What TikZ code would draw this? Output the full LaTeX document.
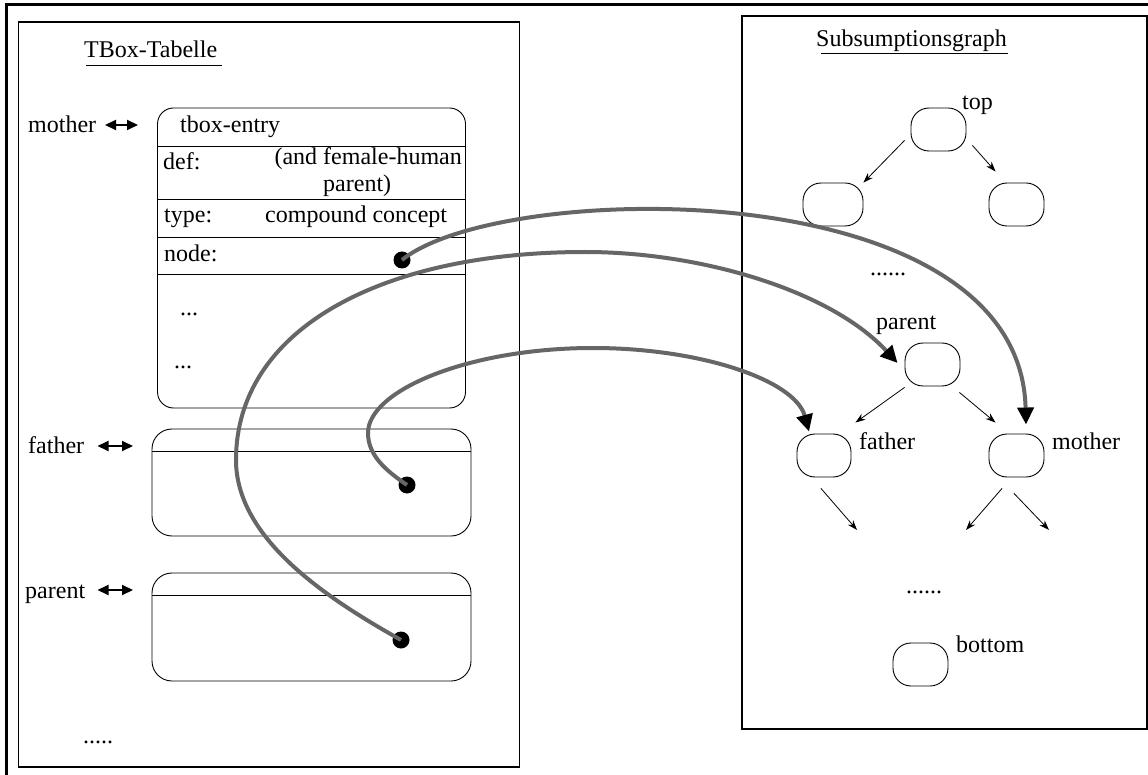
\documentclass[tikz,border=0pt]{standalone}
\usepackage{fontspec}
\setmainfont{Liberation Serif}
\usetikzlibrary{arrows.meta}
\definecolor{linkgray}{RGB}{102,102,102}
\begin{document}
\begin{tikzpicture}[x=1pt,y=-1pt,
  font=\fontsize{24}{28}\selectfont,
  panel/.style={draw, line width=1.2pt, inner sep=0pt},
  entrybox/.style={draw, line width=0.9pt, inner sep=0pt, rounded corners=16pt},
  gnode/.style={draw, line width=0.9pt, inner sep=0pt, rounded corners=18pt,
    minimum height=43pt, minimum width=55pt},
  txt/.style={inner sep=0pt, anchor=base west},
  rtxt/.style={inner sep=0pt, anchor=base east},
  handle/.style={circle, fill=black, inner sep=0pt, minimum size=17pt},
  link/.style={draw=linkgray, line width=4pt,
    -{Triangle[length=17pt,width=16pt,color=black]}},
  edge/.style={line width=0.8pt, -{Stealth[length=10pt,width=7pt]}},
  biarrow/.style={line width=2pt,
    {Triangle[length=11pt,width=10pt]}-{Triangle[length=11pt,width=10pt]}},
  sep/.style={line width=0.9pt}]
\useasboundingbox (0,0) rectangle (1148,775);

% outer frame
\draw[line width=3pt] (6,780) -- (6,5) -- (1150,5);

% the two panels
\node[panel, minimum width=501pt, minimum height=745pt] (tbox) at (269,394.5) {};
\node[panel, minimum width=405pt, minimum height=713pt] (sgraph) at (944.5,372.5) {};

% panel titles
\node[txt] (ttitle) at (84,58) {TBox-Tabelle};
\draw[sep] ([shift={(2,7)}]ttitle.base west) -- ([shift={(5,7)}]ttitle.base east);
\node[txt] (stitle) at (816,47) {Subsumptionsgraph};
\draw[sep] ([shift={(5,6)}]stitle.base west) -- ([shift={(1,6)}]stitle.base east);

% ---------------- TBox table ----------------
\node[entrybox, minimum width=308pt, minimum height=300pt] (mbox) at (311.5,258) {};
\foreach \yy in {146,199,237,274}
  \draw[sep] (mbox.west |- 0,\yy) -- (mbox.east |- 0,\yy);
\node[txt] (tentry) at (180,133) {tbox-entry};
\node[txt] (tdef) at (163,170) {def:};
\node[rtxt] (tdefa) at (462,165) {(and female-human};
\node[txt] (tdefb) at (323,192) {parent)};
\node[txt] (ttype) at (164,223) {type:};
\node[txt] (ttypev) at (265,223) {compound concept};
\node[txt] (tnode) at (164,262) {node:};
\node[txt] (tdots1) at (180,316) {...};
\node[txt] (tdots2) at (174,368) {...};

\node[entrybox, rounded corners=20pt, minimum width=319pt, minimum height=107pt] (fbox) at (311.5,482.5) {};
\draw[sep] (fbox.west |- 0,451) -- (fbox.east |- 0,451);
\node[entrybox, rounded corners=20pt, minimum width=319pt, minimum height=108pt] (pbox) at (311.5,627) {};
\draw[sep] (pbox.west |- 0,595) -- (pbox.east |- 0,595);

\node[txt] (lmother) at (28,133) {mother};
\node[txt] (lfather) at (28,453) {father};
\node[txt] (lparent) at (25,598) {parent};
\node[txt] (tmore) at (83,743) {.....};

\coordinate (ma1) at (105,125);  \coordinate (ma2) at (138,125);
\coordinate (fa1) at (97.5,446); \coordinate (fa2) at (133,446);
\coordinate (pa1) at (97.5,590); \coordinate (pa2) at (133,590);
\draw[biarrow] (ma1) -- (ma2);
\draw[biarrow] (fa1) -- (fa2);
\draw[biarrow] (pa1) -- (pa2);

% node handles
\node[handle] (mdot) at (402,260) {};
\node[handle] (fdot) at (407,485) {};
\node[handle] (pdot) at (401,640) {};

% ---------------- subsumption graph ----------------
\node[gnode] (gtop) at (938.5,129.5) {};
\node[gnode, minimum width=60pt] (gl1) at (833,204.5) {};
\node[gnode] (gr1) at (1016.5,204.5) {};
\node[gnode] (gparent) at (932.5,364.5) {};
\node[gnode, minimum width=54pt] (gfather) at (824,455.5) {};
\node[gnode] (gmother) at (1016.5,455.5) {};
\node[gnode] (gbottom) at (920.5,664.5) {};

\node[txt] (ltop) at (962,110) {top};
\node[txt] (gdots1) at (870,276) {......};
\node[txt] (lgparent) at (876,330) {parent};
\node[txt] (lgfather) at (859,449) {father};
\node[txt] (lgmother) at (1052,449) {mother};
\node[txt] (gdots2) at (906,593) {......};
\node[txt] (lgbottom) at (956,652) {bottom};

\coordinate (fd) at (857,530);
\coordinate (md1) at (966,530);
\coordinate (md2) at (1049,530);

\draw[edge] ([shift={(-6,-11)}]gtop.south west) -- (gl1.north east);
\draw[edge] ([shift={(6,-6)}]gtop.south east) -- ([shift={(7,-11)}]gr1.north west);
\draw[edge] ([shift={(0,1)}]gparent.south west) -- ([shift={(4,-11)}]gfather.north east);
\draw[edge] ([shift={(-1,6)}]gparent.south east) -- ([shift={(7,-11)}]gmother.north west);
\draw[edge] ([shift={(-3,11)}]gfather.south) -- (fd);
\draw[edge] ([shift={(-14.5,11)}]gmother.south) -- (md1);
\draw[edge] ([shift={(-2.5,16)}]gmother.south) -- (md2);

% ---------------- links from the table into the graph ----------------
\coordinate (mtip) at ([shift={(9.5,-9)}]gmother.north);
\coordinate (ptip) at ([shift={(-7,-1.5)}]gparent.west);
\coordinate (ftip) at ([shift={(-15,-2)}]gfather.north);

\draw[link] (mdot.center) .. controls (500,180) and (1020,170) .. (mtip);
\draw[link] (pdot.center) .. controls (330,600) and (236,540) .. (236,460)
  .. controls (236,330) and (380,252) .. (585,252)
  .. controls (700,252) and (830,290) .. (ptip);
\draw[link] (fdot.center) .. controls (385,470) and (368,455) .. (368,433)
  .. controls (368,390) and (470,348) .. (593,348)
  .. controls (700,348) and (795,380) .. (ftip);
\end{tikzpicture}
\end{document}
